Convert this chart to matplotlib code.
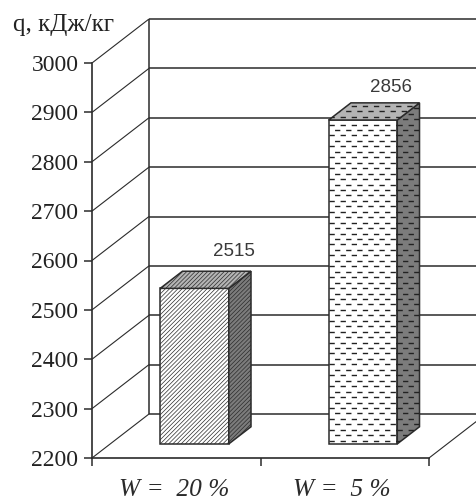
import matplotlib
matplotlib.use("Agg")
import matplotlib.pyplot as plt
from matplotlib.patches import Polygon
from matplotlib.transforms import ScaledTranslation

categories = ["W =  20 %", "W =  5 %"]
values = [2515, 2856]
y_ticks = [2200, 2300, 2400, 2500, 2600, 2700, 2800, 2900, 3000]
y_title = "q, кДж/кг"

plt.rcParams["font.family"] = ["Liberation Serif", "DejaVu Serif"]
plt.rcParams["lines.scale_dashes"] = False
plt.rcParams["hatch.linewidth"] = 0.5

INK = "#2b2b2b"
W, H = 476, 500
fig = plt.figure(figsize=(W / 100, H / 100), dpi=100)
ax = fig.add_axes([92 / W, 1 - 458 / H, 337 / W, 395 / H])
ax.set_xlim(0, len(categories))
ax.set_ylim(y_ticks[0], y_ticks[-1])
ax.patch.set_visible(False)

# Oblique projection: unit depth moves a point back along the floor diagonal.
DEPTH_X = 57 / 168.5
DEPTH_Y = 44 / 395 * 800


def project(x, value, depth):
    return x + depth * DEPTH_X, value + depth * DEPTH_Y


def wire(points, lw=1.1, z=1):
    xs, ys = zip(*points)
    ax.plot(xs, ys, color=INK, lw=lw, clip_on=False, zorder=z, solid_capstyle="butt")


# Back wall, side wall and floor
for tick in y_ticks:
    wire([project(0, tick, 0), project(0, tick, 1)], lw=0.8)
    wire([project(0, tick, 1), project(2, tick, 1)])
wire([project(0, y_ticks[0], 1), project(0, y_ticks[-1], 1)])
wire([project(2, y_ticks[0], 0), project(2, y_ticks[0], 1)], lw=0.8)

BAR_WIDTH = 0.407
DEPTH_FRONT, DEPTH_BACK = 0.32, 0.71


def faces(center, value):
    left, right = center - BAR_WIDTH / 2, center + BAR_WIDTH / 2
    base = y_ticks[0]
    front = [project(left, base, DEPTH_FRONT), project(right, base, DEPTH_FRONT),
             project(right, value, DEPTH_FRONT), project(left, value, DEPTH_FRONT)]
    side = [project(right, base, DEPTH_FRONT), project(right, base, DEPTH_BACK),
            project(right, value, DEPTH_BACK), project(right, value, DEPTH_FRONT)]
    top = [project(left, value, DEPTH_FRONT), project(right, value, DEPTH_FRONT),
           project(right, value, DEPTH_BACK), project(left, value, DEPTH_BACK)]
    return front, side, top


FACE_COLORS = ("#ffffff", "#7c7c7c", "#b4b4b4")


def face_patches(center, value, hatch):
    patches = []
    for verts, color in zip(faces(center, value), FACE_COLORS):
        p = Polygon(verts, closed=True, facecolor=color, edgecolor=INK, lw=1.1,
                    hatch=hatch, zorder=3, clip_on=False)
        ax.add_patch(p)
        patches.append(p)
    return patches


def add_dashes(patch):
    # Staggered rows of short dashes, kept inside one face of the bar
    verts = patch.get_xy()
    x0, x1 = verts[:, 0].min(), verts[:, 0].max()
    y0, y1 = verts[:, 1].min(), verts[:, 1].max()
    step = 5.45 / 395 * 800
    level = y0 + step * 0.6
    row = 0
    while level < y1:
        line, = ax.plot([x0, x1], [level, level], color="#222222", lw=1.0, zorder=4,
                        linestyle=(4.0 * (row % 2), (3.8, 4.2)),
                        dash_capstyle="butt")
        line.set_clip_path(patch)
        level += step
        row += 1


face_patches(0.5, values[0], "/" * 8)
for patch in face_patches(1.5, values[1], None):
    add_dashes(patch)

# Value labels above the bars
label_offsets = [(39, 28), (28, 24)]
for center, value, offset in zip([0.5, 1.5], values, label_offsets):
    x, y = project(center, value, DEPTH_FRONT)
    ax.annotate(str(value), (x, y), xytext=offset, textcoords="offset pixels",
                ha="center", va="bottom", fontsize=13.5, color="#3a3a3a",
                family=["Liberation Sans", "DejaVu Sans"], zorder=5)

# Axes: the front edge of the chart
for side_name in ("top", "right"):
    ax.spines[side_name].set_visible(False)
for side_name in ("left", "bottom"):
    ax.spines[side_name].set_linewidth(1.2)
    ax.spines[side_name].set_color(INK)
    ax.spines[side_name].set_zorder(2)
ax.set_yticks(y_ticks)
ax.tick_params(axis="y", length=5.8, width=1.1, color=INK, labelsize=17, labelcolor="#222222", pad=4)
ax.set_xticks([0, 1, 2], labels=[])
ax.set_xticks([0.5, 1.5], labels=categories, minor=True)
ax.tick_params(axis="x", which="major", length=5.8, width=1.1, color=INK)
ax.tick_params(axis="x", which="minor", length=0, labelsize=18.3, labelcolor="#2a2a2a", pad=15)
nudge = ScaledTranslation(-2.5 / 100, 0, fig.dpi_scale_trans)
for lab in ax.get_xminorticklabels():
    lab.set_fontstyle("italic")
    lab.set_transform(lab.get_transform() + nudge)

fig.text(13 / W, 1 - 25 / H, y_title, ha="left", va="center", fontsize=18, color="#222222")

fig.savefig("out.png", dpi=100)
